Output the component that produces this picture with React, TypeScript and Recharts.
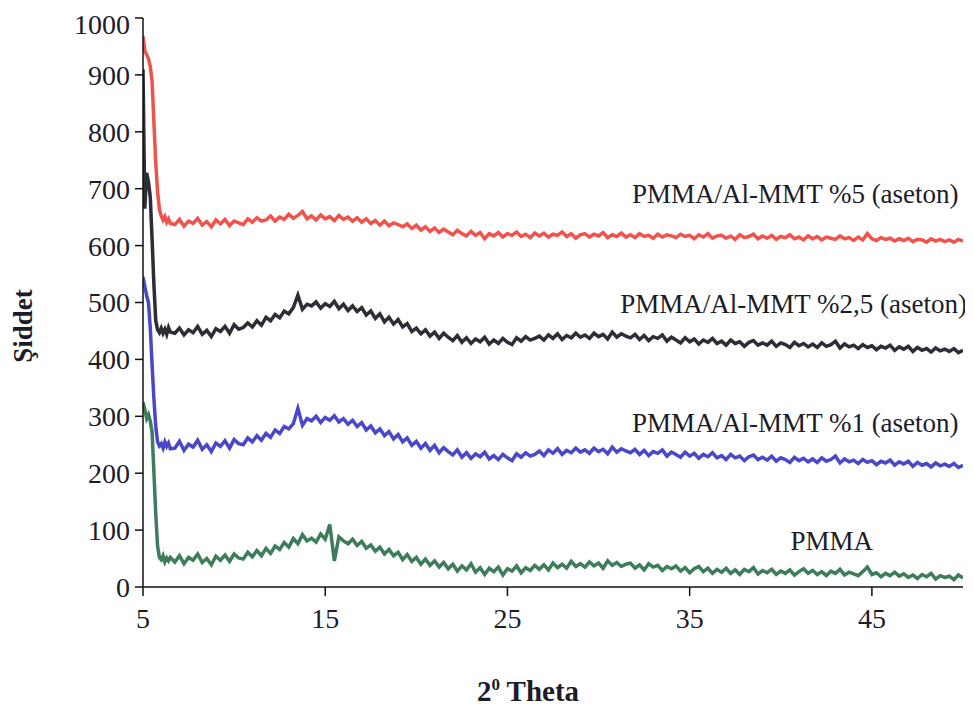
import React from 'react';
import {
  LineChart,
  Line,
  XAxis,
  YAxis,
  ReferenceDot,
  Label,
} from 'recharts';

// 2-theta sampling positions (degrees)
const theta = [
  5.0, 5.1, 5.2, 5.3, 5.4, 5.5, 5.6, 5.7, 5.8, 5.9, 6.0, 6.1, 6.2, 6.3, 6.4, 6.5,
  6.75, 7, 7.25, 7.5, 7.75, 8, 8.25, 8.5, 8.75, 9,
  9.25, 9.5, 9.75, 10, 10.25, 10.5, 10.75, 11, 11.25, 11.5,
  11.75, 12, 12.25, 12.5, 12.75, 13, 13.25, 13.5, 13.75, 14,
  14.25, 14.5, 14.75, 15, 15.25, 15.5, 15.75, 16, 16.25, 16.5,
  16.75, 17, 17.25, 17.5, 17.75, 18, 18.25, 18.5, 18.75, 19,
  19.25, 19.5, 19.75, 20, 20.25, 20.5, 20.75, 21, 21.25, 21.5,
  21.75, 22, 22.25, 22.5, 22.75, 23, 23.25, 23.5, 23.75, 24,
  24.25, 24.5, 24.75, 25, 25.25, 25.5, 25.75, 26, 26.25, 26.5,
  26.75, 27, 27.25, 27.5, 27.75, 28, 28.25, 28.5, 28.75, 29,
  29.25, 29.5, 29.75, 30, 30.25, 30.5, 30.75, 31, 31.25, 31.5,
  31.75, 32, 32.25, 32.5, 32.75, 33, 33.25, 33.5, 33.75, 34,
  34.25, 34.5, 34.75, 35, 35.25, 35.5, 35.75, 36, 36.25, 36.5,
  36.75, 37, 37.25, 37.5, 37.75, 38, 38.25, 38.5, 38.75, 39,
  39.25, 39.5, 39.75, 40, 40.25, 40.5, 40.75, 41, 41.25, 41.5,
  41.75, 42, 42.25, 42.5, 42.75, 43, 43.25, 43.5, 43.75, 44,
  44.25, 44.5, 44.75, 45, 45.25, 45.5, 45.75, 46, 46.25, 46.5,
  46.75, 47, 47.25, 47.5, 47.75, 48, 48.25, 48.5, 48.75, 49,
  49.25, 49.5, 49.75, 50,
];

// PMMA/Al-MMT %5 (aseton)
const mmt5 = [
  968, 942, 936, 928, 915, 888, 815, 745, 695, 664, 652, 645, 651, 641, 647, 639,
  637, 646, 634, 643, 639, 648, 636, 642, 633, 645,
  638, 646, 635, 643, 640, 637, 647, 641, 649, 643,
  645, 652, 643, 650, 646, 655, 648, 653, 660, 647,
  652, 645, 654, 647, 651, 644, 653, 646, 650, 643,
  649, 641, 647, 639, 644, 636, 643, 635, 640, 637,
  633, 638, 630, 636, 627, 633, 625, 631, 623, 629,
  624, 619, 627, 621, 617, 625, 618, 623, 612, 621,
  617, 623, 615, 621, 618, 624, 616, 620, 614, 622,
  617, 622, 615, 620, 618, 624, 616, 621, 613, 619,
  621, 615, 620, 617, 623, 614, 619, 616, 622, 615,
  619, 614, 621, 616, 618, 613, 620, 615, 619, 617,
  614, 620, 616, 618, 612, 619, 615, 621, 613, 617,
  618, 613, 617, 611, 619, 614, 616, 620, 612, 617,
  613, 618, 611, 616, 614, 619, 612, 615, 610, 617,
  612, 616, 610, 615, 613, 611, 617, 612, 614, 609,
  615, 610, 621, 612, 609, 614, 611, 613, 608, 612,
  609, 613, 607, 611, 610, 606, 612, 608, 611, 607,
  610, 606, 611, 608,
];

// PMMA/Al-MMT %2,5 (aseton)
const mmt25 = [
  910, 665, 728, 712, 685, 610, 530, 468, 452, 447, 455, 446, 453, 444, 456, 448,
  446, 455, 443, 452, 447, 458, 444, 451, 440, 454,
  449, 458, 446, 461, 453, 456, 464, 457, 468, 460,
  474, 468, 479, 473, 485, 480, 491, 513, 488, 497,
  494, 501, 490, 498, 493, 502, 489, 497, 486, 494,
  484, 491, 478, 485, 472, 480, 466, 474, 462, 470,
  457, 463, 449, 455, 445, 452, 441, 448, 437, 446,
  439, 433, 442, 430, 438, 428, 436, 431, 439, 427,
  434, 428, 437, 430, 426, 438, 432, 440, 434, 437,
  441, 434, 443, 437, 445, 435, 442, 438, 446, 439,
  443, 437, 446, 440, 444, 436, 448, 439, 445, 441,
  438, 444, 435, 442, 433, 440, 437, 443, 432, 439,
  434, 429, 438, 431, 436, 427, 434, 430, 437, 428,
  432, 425, 434, 428, 431, 423, 430, 433, 425, 429,
  425, 432, 423, 429, 426, 421, 430, 424, 428, 422,
  427, 421, 429, 423, 426, 432, 420, 427, 422, 425,
  419, 426, 421, 424, 417, 423, 420, 425, 416, 422,
  418, 423, 414, 421, 416, 419, 413, 420, 415, 418,
  414, 419, 412, 416,
];

// PMMA/Al-MMT %1 (aseton)
const mmt1 = [
  545, 528, 512, 500, 455, 390, 330, 282, 255, 248, 252, 244, 255, 247, 253, 243,
  244, 256, 240, 251, 246, 258, 242, 250, 238, 253,
  247, 257, 244, 259, 252, 250, 262, 255, 266, 258,
  270, 263, 276, 270, 282, 278, 287, 314, 284, 296,
  292, 300, 289, 298, 293, 301, 290, 296, 286, 293,
  282, 289, 276, 283, 271, 278, 266, 273, 260, 268,
  255, 262, 249, 256, 244, 252, 240, 249, 236, 245,
  238, 232, 241, 228, 236, 226, 234, 229, 237, 225,
  231, 224, 233, 227, 222, 234, 228, 236, 230, 233,
  239, 231, 241, 235, 243, 233, 240, 236, 244, 237,
  241, 235, 244, 238, 242, 234, 246, 237, 243, 239,
  236, 242, 233, 240, 231, 238, 235, 241, 230, 237,
  233, 228, 237, 230, 235, 226, 233, 229, 236, 227,
  231, 224, 233, 227, 230, 222, 229, 232, 224, 228,
  223, 230, 221, 227, 224, 219, 228, 222, 226, 220,
  225, 219, 227, 221, 224, 230, 218, 225, 220, 223,
  217, 224, 219, 222, 215, 221, 218, 223, 214, 220,
  216, 221, 212, 219, 214, 217, 211, 218, 213, 216,
  212, 217, 210, 214,
];

// PMMA
const pmma = [
  325, 312, 296, 303, 291, 272, 200, 128, 72, 52, 48, 55, 44, 51, 46, 52,
  44, 55, 41, 52, 47, 58, 43, 50, 39, 54,
  47, 56, 45, 58, 51, 49, 61, 53, 64, 55,
  68, 59, 72, 66, 78, 70, 85, 76, 92, 81,
  86, 79, 93, 84, 110, 46, 88, 81, 76, 84,
  73, 80, 68, 74, 63, 70, 58, 66, 55, 61,
  48, 57, 45, 52, 40, 49, 38, 46, 35, 43,
  32, 40, 28, 37, 30, 41, 26, 34, 22, 33,
  27, 35, 21, 32, 28, 37, 25, 34, 29, 38,
  31, 39, 30, 42, 34, 40, 33, 45, 36, 41,
  35, 44, 37, 42, 33, 46, 38, 43, 36, 40,
  42, 33, 39, 30, 41, 35, 38, 29, 36, 32,
  37, 28, 34, 25, 32, 36, 27, 33, 24, 31,
  26, 33, 24, 30, 22, 31, 27, 34, 23, 29,
  25, 31, 22, 28, 24, 30, 21, 27, 32, 24,
  29, 22, 27, 20, 28, 24, 31, 21, 26, 23,
  20, 27, 35, 22, 25, 18, 24, 20, 26, 19,
  23, 17, 21, 15, 22, 18, 24, 14, 20, 17,
  19, 13, 21, 16,
];

const xTicks = [5, 15, 25, 35, 45];
const yTicks = [0, 100, 200, 300, 400, 500, 600, 700, 800, 900, 1000];

const seriesLabels = [
  { text: 'PMMA/Al-MMT %5 (aseton)', x: 40.8, y: 692 },
  { text: 'PMMA/Al-MMT %2,5 (aseton)', x: 40.7, y: 499 },
  { text: 'PMMA/Al-MMT %1 (aseton)', x: 40.8, y: 290 },
  { text: 'PMMA', x: 42.8, y: 81 },
];

const data = theta.map((t, i) => ({
  theta: t,
  mmt5: mmt5[i],
  mmt25: mmt25[i],
  mmt1: mmt1[i],
  pmma: pmma[i],
}));

const FONT = '"Liberation Serif", "Times New Roman", serif';
const TEXT = '#1c1c28';

const App = () => {
  return (
    <div style={{ width: 965, height: 707, fontFamily: FONT }}>
      <LineChart
        width={965}
        height={707}
        data={data}
        margin={{ top: 10, right: 10, bottom: 68, left: 0 }}
      >
        <XAxis
          dataKey="theta"
          type="number"
          domain={[5, 50]}
          ticks={xTicks}
          allowDataOverflow
          height={60}
          stroke="#111"
          strokeWidth={1.5}
          tickSize={9}
          tickMargin={12}
          tick={{ fontFamily: FONT, fontSize: 28, fill: TEXT }}
        >
          <Label
            content={() => (
              <text x={520} y={693} textAnchor="middle" fontFamily={FONT} fontWeight="bold" fontSize={29} fill={TEXT}>
                2
                <tspan dy={-11} fontSize={17}>0</tspan>
                <tspan dy={11}> Theta</tspan>
              </text>
            )}
          />
        </XAxis>
        <YAxis
          type="number"
          domain={[0, 1000]}
          ticks={yTicks}
          width={135}
          stroke="#111"
          strokeWidth={1.5}
          tickSize={8}
          tickMargin={5}
          tick={{ fontFamily: FONT, fontSize: 28, fill: TEXT }}
        >
          <Label
            content={() => (
              <text
                x={15}
                y={318}
                transform="rotate(-90 15 318)"
                textAnchor="middle"
                dominantBaseline="central"
                fontFamily={FONT}
                fontWeight="bold"
                fontSize={27}
                fill={TEXT}
              >
                Şiddet
              </text>
            )}
          />
        </YAxis>
        <Line type="linear" dataKey="mmt5" stroke="#f0524c" strokeWidth={3.5} dot={false} isAnimationActive={false} />
        <Line type="linear" dataKey="mmt25" stroke="#2d2d35" strokeWidth={3.5} dot={false} isAnimationActive={false} />
        <Line type="linear" dataKey="mmt1" stroke="#4848c8" strokeWidth={3.5} dot={false} isAnimationActive={false} />
        <Line type="linear" dataKey="pmma" stroke="#3d7d5b" strokeWidth={3.5} dot={false} isAnimationActive={false} />
        {seriesLabels.map((s) => (
          <ReferenceDot
            key={s.text}
            x={s.x}
            y={s.y}
            r={0}
            fill="none"
            stroke="none"
            label={{ value: s.text, position: 'center', fontFamily: FONT, fontSize: 27, fill: TEXT }}
          />
        ))}
      </LineChart>
    </div>
  );
};

export default App;
